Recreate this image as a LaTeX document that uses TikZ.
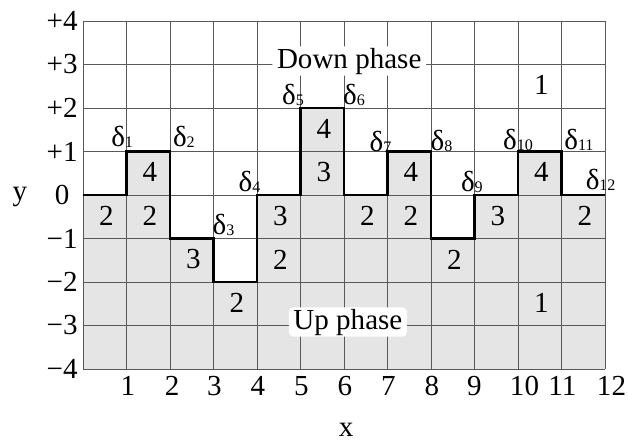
\documentclass[tikz,border=0pt]{standalone}
\usepackage{fontspec}
\setmainfont{Liberation Serif}
\usetikzlibrary{positioning}
\newcommand{\dsub}[1]{\raisebox{-0.5pt}{\fontsize{10.5}{10.5}\selectfont #1}}

\begin{document}
\begin{tikzpicture}[x=1cm, y=1cm, font=\fontsize{19}{22}\selectfont,
  upregion/.style={fill=black!10},
  gridline/.style={draw=black!65, line width=0.6pt},
  steppath/.style={draw=black, line width=1.8pt},
  phase/.style={fill=white, rounded corners=3pt, inner xsep=3pt, inner ysep=1pt},
  cellnum/.style={inner sep=0pt},
  delta/.style={inner sep=0pt},
  ticklab/.style={inner sep=0pt}]
\useasboundingbox (-1.908,-5.701) rectangle (12.529,4.483);
% shaded up region below the step curve
\fill[upregion] (0,-4) -- (0,0) -- (1,0) -- (1,1) -- (2,1) -- (2,-1) -- (3,-1)
  -- (3,-2) -- (4,-2) -- (4,0) -- (5,0) -- (5,2) -- (6,2) -- (6,0) -- (7,0)
  -- (7,1) -- (8,1) -- (8,-1) -- (9,-1) -- (9,0) -- (10,0) -- (10,1) -- (11,1)
  -- (11,0) -- (12,0) -- (12,-4) -- cycle;
% grid
\draw[gridline] (0,-4) grid (12,4);
% step curve
\draw[steppath] (0,0) -- (1,0) -- (1,1) -- (2,1) -- (2,-1) -- (3,-1) -- (3,-2)
  -- (4,-2) -- (4,0) -- (5,0) -- (5,2) -- (6,2) -- (6,0) -- (7,0) -- (7,1)
  -- (8,1) -- (8,-1) -- (9,-1) -- (9,0) -- (10,0) -- (10,1) -- (11,1) -- (11,0)
  -- (12,0);
% phase labels
\node[phase] (down) at (6.12,3.08) {Down phase};
\node[phase] (up) at (6.09,-2.92) {Up phase};
% cell counts
\foreach \cx/\cy/\num [count=\i] in {1/0/4, 5/1/4, 5/0/3, 7/0/4, 10/0/4, 10/2/1,
    0/-1/2, 1/-1/2, 4/-1/3, 6/-1/2, 7/-1/2, 9/-1/3, 11/-1/2,
    2/-2/3, 4/-2/2, 8/-2/2, 3/-3/2, 10/-3/1}
  \node[cellnum] (cnt\i) at (\cx+0.54,\cy+0.52) {\num};
% deltas at the edges
\foreach \dx/\dy [count=\i] in {0.90/1.33, 2.32/1.33, 3.23/-0.69, 3.83/0.30,
    4.83/2.30, 6.23/2.30, 6.84/1.22, 8.24/1.25, 8.94/0.30, 10.0/1.26,
    11.4/1.26, 11.9/0.35}
  \node[delta] (d\i) at (\dx,\dy) {δ\dsub{\i}};
% axis ticks
\foreach \t/\lab in {4/+4, 3/+3, 2/+2, 1/+1, 0/0, -1/−1, -2/−2, -3/−3, -4/−4}
  \node[ticklab] (ylab\t) at (-0.48,\t) {\lab};
\foreach \t/\px in {1/1.03, 2/2.05, 3/3.02, 4/4.02, 5/5.02, 6/6.02, 7/7.02,
    8/8.02, 9/9.0, 10/10.15, 11/11.02, 12/12.15}
  \node[ticklab] (xlab\t) at (\px,-4.39) {\t};
\node (ylabel) at (-1.45,-0.05) {y};
\node (xlabel) at (6.05,-5.40) {x};
\end{tikzpicture}
\end{document}
